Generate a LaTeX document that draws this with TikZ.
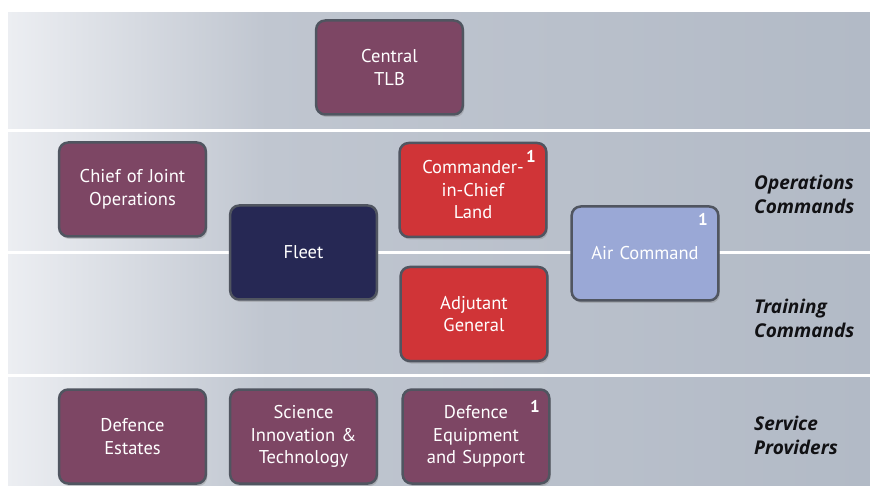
\documentclass[tikz,border=0pt]{standalone}
\usepackage{fontspec}
\setmainfont{PT Sans}
\newfontfamily\labelfont{Open Sans}
\usetikzlibrary{shadows}
\definecolor{bgL}{RGB}{236,238,242}
\definecolor{bgM}{RGB}{192,198,208}
\definecolor{bgR}{RGB}{178,186,198}
\definecolor{plum}{RGB}{125,70,100}
\definecolor{armyred}{RGB}{208,52,55}
\definecolor{navy}{RGB}{38,40,84}
\definecolor{airblue}{RGB}{154,168,214}
\definecolor{rimgray}{RGB}{80,85,96}
\definecolor{labelink}{RGB}{17,17,20}
\pgfdeclarehorizontalshading{bgshade}{100bp}{color(0bp)=(bgL); color(25bp)=(bgL); color(40bp)=(bgM); color(75bp)=(bgR); color(100bp)=(bgR)}
\tikzset{
  unit/.style={draw=rimgray, line width=2.5pt, rounded corners=9pt,
    minimum width=142.5pt, minimum height=94pt, text width=140pt, align=center,
    text=white, font=\fontsize{18.5}{22.5}\selectfont,
    drop shadow={shadow xshift=1.5pt, shadow yshift=-2.5pt, opacity=0.35}},
  plumbox/.style={unit, fill=plum},
  redbox/.style={unit, fill=armyred},
  navybox/.style={unit, fill=navy},
  airbox/.style={unit, fill=airblue},
  num/.style={text=white, font=\fontsize{17}{17}\bfseries\selectfont, inner sep=0pt},
  bandlabel/.style={anchor=west, align=left, text=labelink, inner sep=0pt,
    font=\labelfont\fontsize{19}{24}\bfseries\itshape\selectfont},
  sep/.style={draw=white, line width=3pt}
}
\begin{document}
\begin{tikzpicture}[x=1pt,y=-1pt]
\useasboundingbox (0,0) rectangle (870,486);
\fill[white] (0,0) rectangle (870,486);
\shade[shading=bgshade] (8,13) rectangle (870,486);
% band separators
\coordinate (s1l) at (8,130.5);  \coordinate (s1r) at (870,130.5);
\coordinate (s2l) at (8,253);    \coordinate (s2r) at (870,253);
\coordinate (s3l) at (8,375.5);  \coordinate (s3r) at (870,375.5);
\draw[sep] (s1l) -- (s1r);
\draw[sep] (s2l) -- (s2r);
\draw[sep] (s3l) -- (s3r);
% boxes
\node[plumbox] (tlb) at (389.5,67.5) {Central\\TLB};
\node[plumbox] (cjo) at (132.5,189.5) {Chief of Joint\\Operations};
\node[navybox] (fleet) at (303.5,252.5) {Fleet};
\node[redbox] (cinc) at (473,190) {Commander-\\in-Chief\\Land};
\node[redbox] (ag) at (474,314) {Adjutant\\General};
\node[airbox] (air) at (645,253.5) {Air Command};
\node[plumbox] (de) at (132.5,436.5) {Defence\\Estates};
\node[plumbox] (sit) at (303.5,436.5) {Science\\Innovation \&\\Technology};
\node[plumbox] (des) at (476,436.5) {Defence\\Equipment\\and Support};
% footnote marks
\node[num] (cincn) at (531,156) {1};
\node[num] (airn) at (703,219) {1};
\node[num] (desn) at (535,406) {1};
% band labels
\node[bandlabel] (ops) at (754,194) {Operations\\Commands};
\node[bandlabel] (trn) at (754,318) {Training\\Commands};
\node[bandlabel] (svc) at (754,435.5) {Service\\Providers};
\end{tikzpicture}
\end{document}
